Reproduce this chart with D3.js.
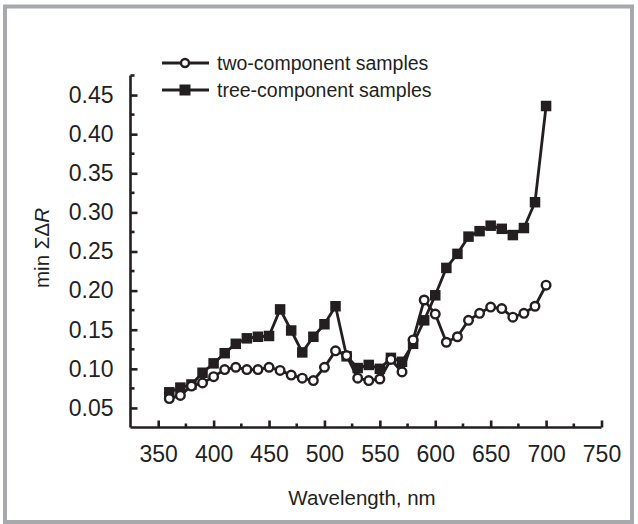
<!DOCTYPE html>
<html><head><meta charset="utf-8">
<script src="https://cdn.jsdelivr.net/npm/d3@7"></script>
<style>html,body{margin:0;padding:0;background:#fff}svg{display:block}</style>
</head><body>
<script>
const wavelengths = [360,370,380,390,400,410,420,430,440,450,460,470,480,490,500,510,520,530,540,550,560,570,580,590,600,610,620,630,640,650,660,670,680,690,700];
const twoComponent = [0.062,0.066,0.078,0.082,0.090,0.099,0.102,0.099,0.099,0.102,0.098,0.092,0.088,0.085,0.102,0.123,0.117,0.088,0.085,0.087,0.112,0.096,0.137,0.188,0.170,0.134,0.141,0.162,0.171,0.179,0.177,0.166,0.171,0.180,0.207];
const treeComponent = [0.070,0.076,0.080,0.095,0.107,0.120,0.132,0.139,0.141,0.142,0.176,0.149,0.121,0.141,0.157,0.180,0.116,0.101,0.105,0.100,0.114,0.109,0.132,0.162,0.194,0.229,0.247,0.269,0.276,0.283,0.279,0.271,0.280,0.313,0.436];
const xTicks = [350,400,450,500,550,600,650,700,750];
const yTicks = [0.05,0.10,0.15,0.20,0.25,0.30,0.35,0.40,0.45];
const seriesNames = ["two-component samples","tree-component samples"];

const W = 638, H = 524;
const ink = "#231f20";
const svg = d3.select("body").append("svg").attr("width", W).attr("height", H);

// frame
svg.append("rect").attr("x", 5).attr("y", 6.5).attr("width", 627).attr("height", 515.5)
  .attr("fill", "#fff").attr("stroke", "#a7a9ac").attr("stroke-width", 4);

const x = d3.scaleLinear().domain([325, 750]).range([130.5, 601.5]);
const y = d3.scaleLinear().domain([0.025, 0.475]).range([427.5, 75.5]);

const font = "'Liberation Sans', Arial, Helvetica, sans-serif";

// axes
const minorX = d3.range(375, 750, 50);
const minorY = d3.range(0.075, 0.476, 0.05);

const gx = svg.append("g").attr("transform", `translate(0,${y(0.025)})`);
gx.call(d3.axisBottom(x).tickValues(xTicks).tickSize(-7).tickPadding(18).tickFormat(d3.format("d")));
gx.append("g").selectAll("line").data(minorX).join("line")
  .attr("x1", d => x(d)).attr("x2", d => x(d)).attr("y1", 0).attr("y2", -4);

const gy = svg.append("g").attr("transform", `translate(${x(325)},0)`);
gy.call(d3.axisLeft(y).tickValues(yTicks).tickSize(-7).tickPadding(17).tickFormat(d3.format(".2f")));
gy.append("g").selectAll("line").data(minorY).join("line")
  .attr("y1", d => y(d)).attr("y2", d => y(d)).attr("x1", 0).attr("x2", 4);

[gx, gy].forEach(g => {
  g.select(".domain").attr("stroke", ink).attr("stroke-width", 2.6);
  g.selectAll("line").attr("stroke", ink).attr("stroke-width", 2.6);
  g.selectAll("text").attr("fill", ink).style("font-family", font).style("font-size", "23px");
});
gx.select(".domain").attr("d", `M${x(325)},0H${x(750)}`);
gy.select(".domain").attr("d", `M0,${y(0.025)}V${y(0.475)}`);

// axis titles
svg.append("text").attr("x", 362).attr("y", 505).attr("text-anchor", "middle")
  .attr("fill", ink).style("font-family", font).style("font-size", "20.5px").text("Wavelength, nm");
const yt = svg.append("text").attr("transform", "translate(49,248) rotate(-90)").attr("text-anchor", "middle")
  .attr("fill", ink).style("font-family", font).style("font-size", "20.5px");
yt.append("tspan").text("min ΣΔ");
yt.append("tspan").style("font-style", "italic").text("R");

// lines
const line = vals => d3.line().x((d, i) => x(wavelengths[i])).y(d => y(d))(vals);
svg.append("path").attr("d", line(treeComponent)).attr("fill", "none").attr("stroke", ink).attr("stroke-width", 2.8).attr("stroke-linejoin", "round");
svg.append("path").attr("d", line(twoComponent)).attr("fill", "none").attr("stroke", ink).attr("stroke-width", 2.8).attr("stroke-linejoin", "round");

// markers
const sq = 10.5;
svg.append("g").selectAll("rect").data(treeComponent).join("rect")
  .attr("x", (d, i) => x(wavelengths[i]) - sq / 2).attr("y", d => y(d) - sq / 2)
  .attr("width", sq).attr("height", sq).attr("fill", ink);
svg.append("g").selectAll("circle").data(twoComponent).join("circle")
  .attr("cx", (d, i) => x(wavelengths[i])).attr("cy", d => y(d)).attr("r", 4.3)
  .attr("fill", "#fff").attr("stroke", ink).attr("stroke-width", 2.4);

// legend
const leg = svg.append("g");
[63, 90].forEach((ly, k) => {
  leg.append("line").attr("x1", 162).attr("x2", 209).attr("y1", ly).attr("y2", ly).attr("stroke", ink).attr("stroke-width", 2.8);
  if (k === 0) leg.append("circle").attr("cx", 185).attr("cy", ly).attr("r", 4).attr("fill", "#fff").attr("stroke", ink).attr("stroke-width", 2.4);
  else leg.append("rect").attr("x", 185 - 5.5).attr("y", ly - 5.5).attr("width", 11).attr("height", 11).attr("fill", ink);
  leg.append("text").attr("x", 217).attr("y", ly + 7).attr("fill", ink).style("font-family", font).style("font-size", "19.5px").text(seriesNames[k]);
});
</script>
</body></html>
